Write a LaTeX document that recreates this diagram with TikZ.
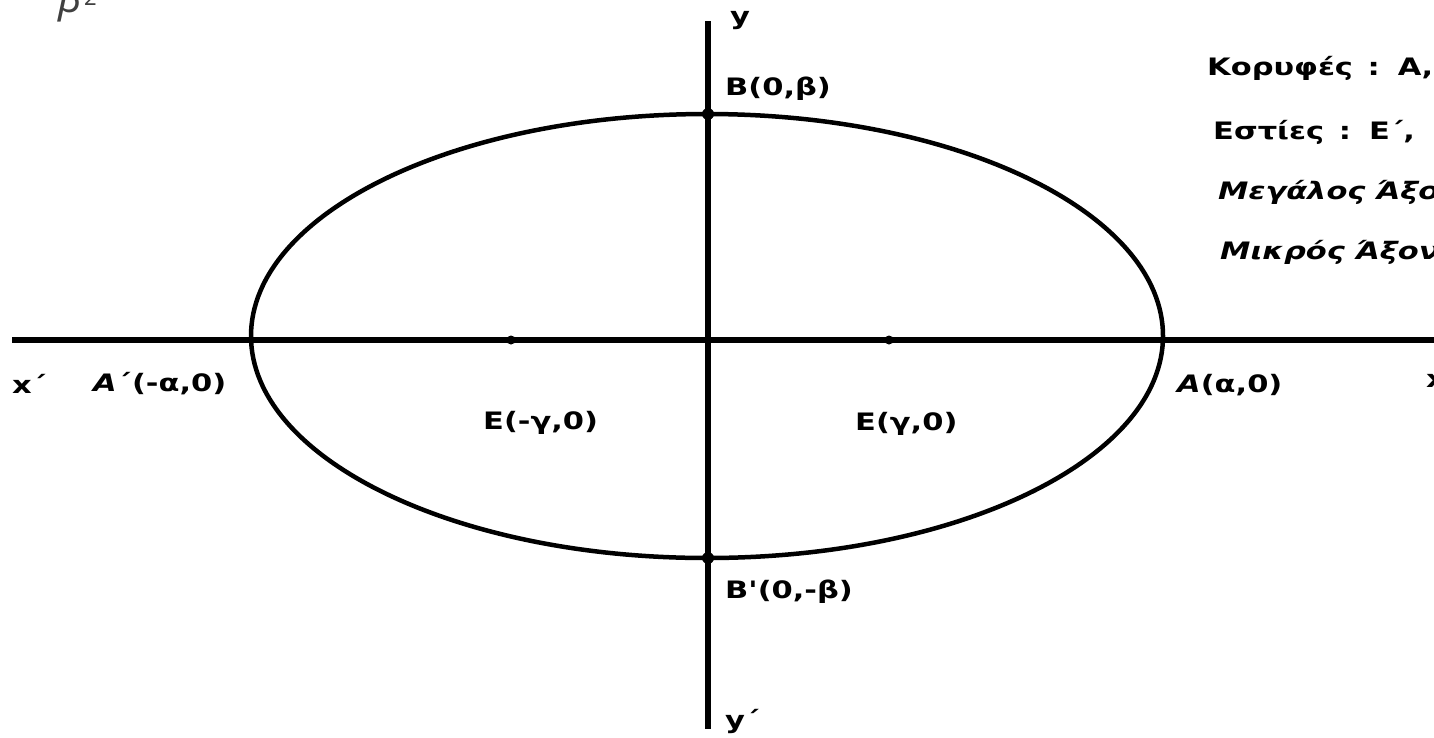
\documentclass[tikz,border=0pt]{standalone}
\usepackage{fontspec}
\newfontfamily\lblfont[FakeStretch=1.27]{DejaVu Sans}
\newfontfamily\topfont{Noto Sans}
\begin{document}
\begin{tikzpicture}[x=1pt,y=-1pt,
  lab/.style={font=\lblfont\bfseries\fontsize{24}{28}\selectfont, anchor=west, inner sep=0pt, text=black},
  labit/.style={lab, font=\lblfont\bfseries\itshape\fontsize{24}{28}\selectfont},
  axisline/.style={line width=5.5pt},
  curveline/.style={line width=4.5pt},
  focusdot/.style={circle, fill=black, inner sep=0pt, minimum size=9pt},
  vertexdot/.style={circle, fill=black, inner sep=0pt, minimum size=12pt}]
\useasboundingbox (0,0) rectangle (1434,737);
\clip (0,0) rectangle (1434,737);
% axes
\coordinate (xl) at (12,340);
\coordinate (xr) at (1445,340);
\coordinate (yt) at (708,21);
\coordinate (yb) at (708,729);
\draw[axisline] (xl) -- (xr);
\draw[axisline] (yt) -- (yb);
% ellipse
\draw[curveline] (707,336) ellipse [x radius=456pt, y radius=222pt];
% points
\node[focusdot] (F1) at (511,340) {};
\node[focusdot] (F2) at (889,340) {};
\node[vertexdot] (B1) at (708,114) {};
\node[vertexdot] (B2) at (708,558) {};
% labels
\node[lab] (lx1) at (12,384) {x´};
\node[lab] (lA1) at (93,384) {{\itshape A}´(-α,0)};
\node[lab] (lE1) at (483,423) {E(-γ,0)};
\node[lab] (lE2) at (855,424) {E(γ,0)};
\node[lab] (lA2) at (1177,385) {{\itshape A}(α,0)};
\node[lab] (lx2) at (1426,381) {x};
\node[lab] (ly1) at (730,21) {y};
\node[lab] (lB1) at (725,89) {B(0,β)};
\node[lab] (lB2) at (725,592) {B'(0,-β)};
\node[lab] (ly2) at (725,721) {y´};
% right text
\node[lab] (t1) at (1207,68) {Κορυφές\, : \,Α,};
\node[lab] (t2) at (1213,132) {Εστίες\, : \,Ε΄,};
\node[labit] (t3) at (1218,192) {Μεγάλος Άξο};
\node[labit] (t4) at (1220,252) {Μικρός Άξον};
% top-left fragment
\node[anchor=base west, inner sep=0pt, text=black!75, font=\topfont\itshape\fontsize{40}{42}\selectfont] (beta) at (58,12) {β\hspace{3pt}\raisebox{7pt}{\upshape\fontsize{22}{24}\selectfont 2}};
\end{tikzpicture}
\end{document}
